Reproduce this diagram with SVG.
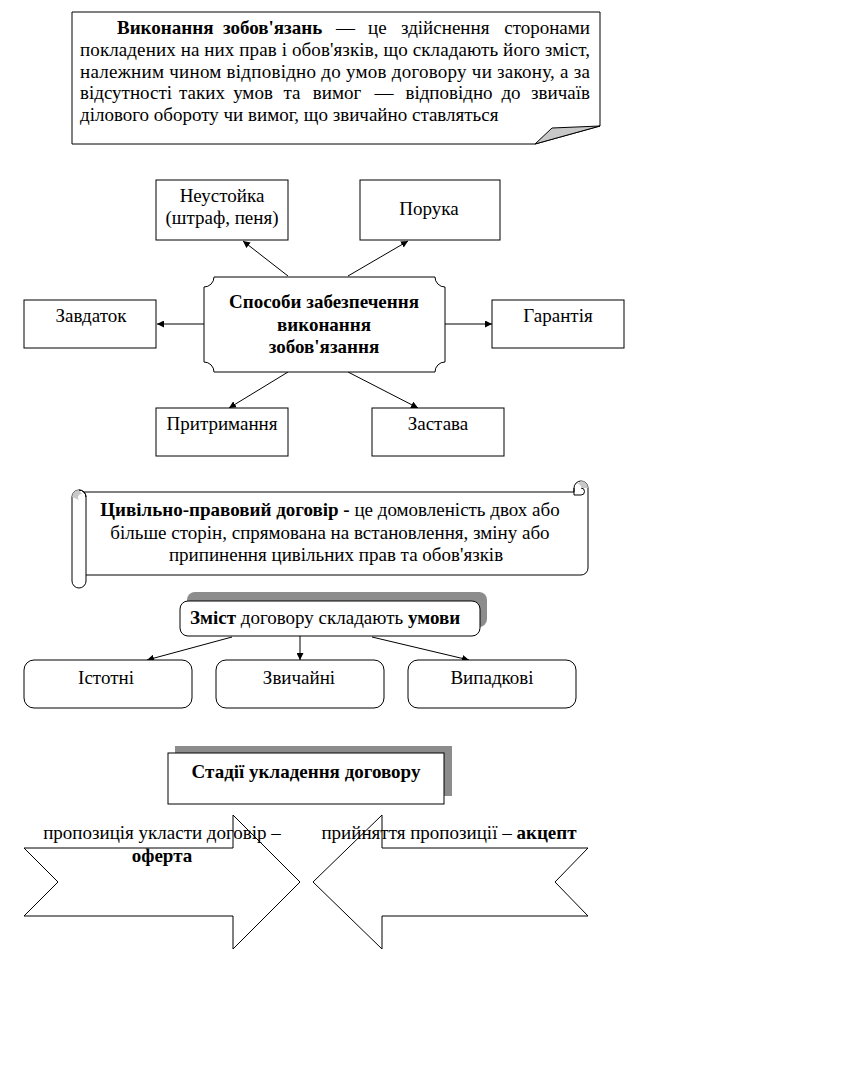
<svg xmlns="http://www.w3.org/2000/svg" width="865" height="1081" viewBox="0 0 865 1081">
<defs>
<style>
text{font-family:"Liberation Serif","Times New Roman",serif;font-size:19px;fill:#000}
.b{font-weight:bold}
.c{text-anchor:middle}
.box{fill:#fff;stroke:#000;stroke-width:1}
.ln{stroke:#000;stroke-width:1;fill:none}
.sh{fill:#8c8c8c}
</style>
<marker id="ah" viewBox="0 0 10 10" refX="10" refY="5" markerWidth="7" markerHeight="7" orient="auto" markerUnits="userSpaceOnUse">
<path d="M0,0 L10,5 L0,10 Z" fill="#000"/>
</marker>
</defs>
<rect width="865" height="1081" fill="#fff"/>

<g id="definition">
<path class="box" d="M72,12 H600 V126 L535,144 H72 Z"/>
<path d="M535,144 L552,128 L600,126 Z" fill="#c8c8c8" stroke="#000"/>
<text x="117" y="34" class="b">Виконання</text>
<text x="223" y="34" class="b">зобов'язань</text>
<text x="336" y="34">—</text>
<text x="368" y="34">це</text>
<text x="401" y="34">здійснення</text>
<text x="590" y="34" text-anchor="end">сторонами</text>
<text x="80" y="56" textLength="510" lengthAdjust="spacing">покладених на них прав і обов'язків, що складають його зміст,</text>
<text x="80" y="78" textLength="510" lengthAdjust="spacing">належним чином відповідно до умов договору чи закону, а за</text>
<text x="80" y="99">відсутності</text>
<text x="202" y="99" class="c">таких</text>
<text x="253" y="99" class="c">умов</text>
<text x="292" y="99" class="c">та</text>
<text x="337" y="99" class="c">вимог</text>
<text x="384" y="99" class="c">—</text>
<text x="449" y="99" class="c">відповідно</text>
<text x="511" y="99" class="c">до</text>
<text x="590" y="99" text-anchor="end">звичаїв</text>
<text x="80" y="121">ділового обороту чи вимог, що звичайно ставляться</text>
</g>

<g id="connectors">
<line class="ln" x1="288" y1="276" x2="243" y2="241" marker-end="url(#ah)"/>
<line class="ln" x1="348" y1="276" x2="408" y2="241" marker-end="url(#ah)"/>
<line class="ln" x1="204" y1="324" x2="157" y2="324" marker-end="url(#ah)"/>
<line class="ln" x1="445" y1="324" x2="492" y2="324" marker-end="url(#ah)"/>
<line class="ln" x1="288" y1="372" x2="229" y2="408" marker-end="url(#ah)"/>
<line class="ln" x1="348" y1="372" x2="418" y2="408" marker-end="url(#ah)"/>
<line class="ln" x1="232" y1="637" x2="147" y2="660" marker-end="url(#ah)"/>
<line class="ln" x1="300" y1="636" x2="300" y2="660" marker-end="url(#ah)"/>
<line class="ln" x1="372" y1="637" x2="469" y2="660" marker-end="url(#ah)"/>
</g>

<g id="neustoika">
<rect class="box" x="156" y="180" width="132" height="60"/>
<text x="222" y="202" class="c">Неустойка</text>
<text x="222" y="224" class="c">(штраф, пеня)</text>
</g>
<g id="poruka">
<rect class="box" x="360" y="180" width="140" height="60"/>
<text x="429" y="215" class="c">Порука</text>
</g>
<g id="sposoby">
<path class="box" d="M214,277 H435 A10,10 0 0 0 445,287 V362 A10,10 0 0 0 435,372 H214 A10,10 0 0 0 204,362 V287 A10,10 0 0 0 214,277 Z"/>
<text x="324" y="308" class="c b">Способи забезпечення</text>
<text x="324" y="331" class="c b">виконання</text>
<text x="324" y="353" class="c b">зобов'язання</text>
</g>
<g id="zavdatok">
<rect class="box" x="24" y="300" width="132" height="48"/>
<text x="91" y="322" class="c">Завдаток</text>
</g>
<g id="garantiya">
<rect class="box" x="492" y="300" width="132" height="48"/>
<text x="558" y="322" class="c">Гарантія</text>
</g>
<g id="pryttrymannya">
<rect class="box" x="156" y="408" width="132" height="48"/>
<text x="222" y="430" class="c">Притримання</text>
</g>
<g id="zastava">
<rect class="box" x="372" y="408" width="132" height="48"/>
<text x="438" y="430" class="c">Застава</text>
</g>

<g id="dogovir">
<path class="box" d="M79,492 H574 V488 A7,7 0 0 1 588,488 V568 A7,7 0 0 1 581,575 H86"/>
<path class="ln" d="M574,488 V495 H581 A3.5,3.5 0 0 0 581,488"/>
<path d="M581,481 A7,7 0 0 1 588,488 L581,488 A3.5,3.5 0 0 0 577,484 Z" fill="#c8c8c8"/>
<rect class="box" x="72" y="490" width="14" height="98" rx="7"/>
<path d="M79,490 A7,7 0 0 0 72,497 L79,500 A3.5,3.5 0 0 1 82,494 Z" fill="#c8c8c8"/>
<path class="ln" d="M79,490 A7,7 0 0 1 86,497"/>
<text x="330" y="516" class="c"><tspan class="b">Цивільно-правовий договір -</tspan> це домовленість двох або</text>
<text x="330" y="539" class="c">більше сторін, спрямована на встановлення, зміну або</text>
<text x="336" y="561" class="c">припинення цивільних прав та обов'язків</text>
</g>

<g id="zmist">
<rect class="sh" x="187" y="592" width="300" height="35" rx="8"/>
<rect class="box" x="180" y="601" width="300" height="35" rx="8"/>
<text x="190" y="624"><tspan class="b">Зміст</tspan> договору складають <tspan class="b">умови</tspan></text>
</g>
<g id="istotni">
<rect class="box" x="24" y="660" width="168" height="48" rx="10"/>
<text x="106" y="684" class="c">Істотні</text>
</g>
<g id="zvychaini">
<rect class="box" x="216" y="660" width="168" height="48" rx="10"/>
<text x="299" y="684" class="c">Звичайні</text>
</g>
<g id="vypadkovi">
<rect class="box" x="408" y="660" width="168" height="48" rx="10"/>
<text x="492" y="684" class="c">Випадкові</text>
</g>

<g id="stadii">
<rect class="sh" x="175" y="746" width="277" height="50"/>
<rect class="box" x="168" y="753" width="276" height="51"/>
<text x="306" y="778" class="c b">Стадії укладення договору</text>
</g>

<g id="oferta">
<path class="ln" d="M24,848 L233,848 L233,815 L300,882 L233,949 L233,916 L24,916 L58,882 Z"/>
<text x="162" y="839" class="c">пропозиція укласти договір –</text>
<text x="162" y="862" class="c b">оферта</text>
</g>
<g id="aktsept">
<path class="ln" d="M588,848 L382,848 L382,815 L313,882 L382,949 L382,916 L588,916 L555,882 Z"/>
<text x="449" y="839" class="c">прийняття пропозиції – <tspan class="b">акцепт</tspan></text>
</g>
</svg>
